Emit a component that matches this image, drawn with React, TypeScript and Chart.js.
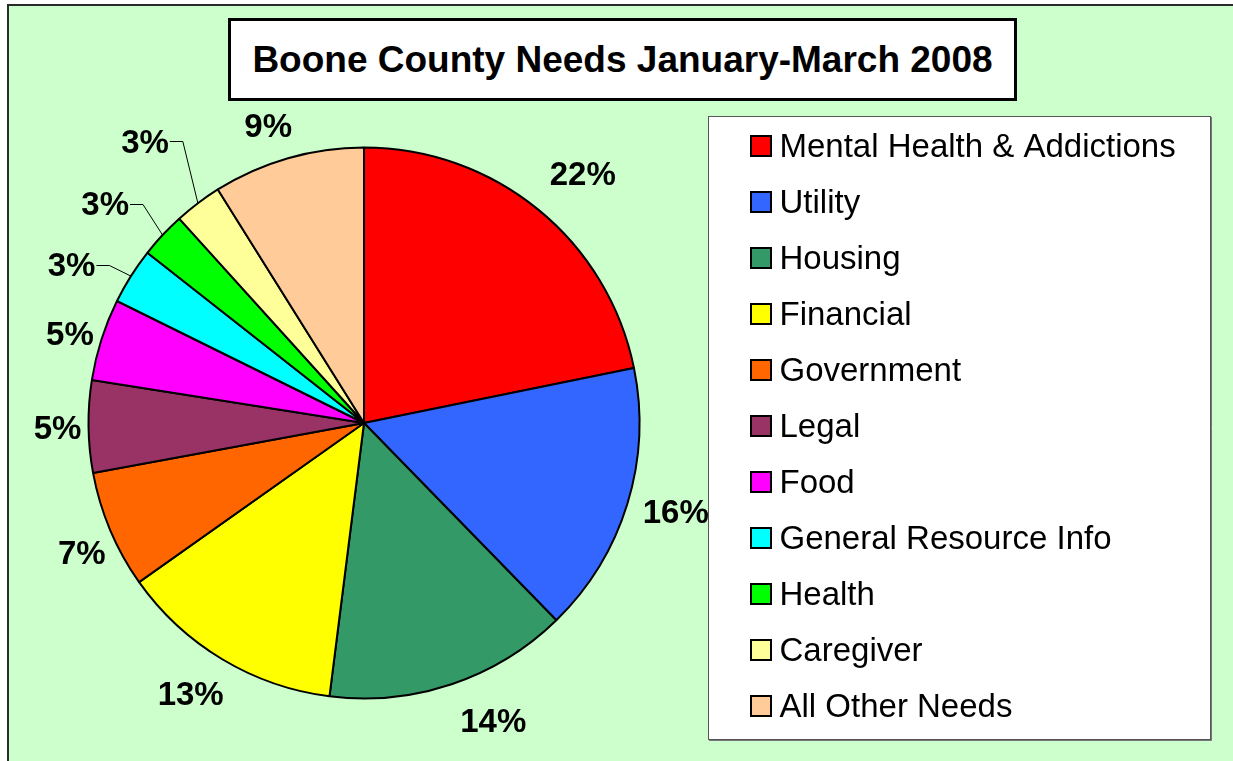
import React, { useEffect, useRef } from 'react';
import { Chart, registerables } from 'chart.js';

Chart.register(...registerables);

// ---- data ----
const categories = [
  'Mental Health & Addictions',
  'Utility',
  'Housing',
  'Financial',
  'Government',
  'Legal',
  'Food',
  'General Resource Info',
  'Health',
  'Caregiver',
  'All Other Needs',
];
const shares = [21.8, 15.9, 14.3, 13.2, 6.9, 5.4, 4.8, 3.3, 2.7, 2.8, 8.9];
const sliceColors = [
  '#FF0000', '#3366FF', '#339966', '#FFFF00', '#FF6600', '#993366',
  '#FF00FF', '#00FFFF', '#00FF00', '#FFFF99', '#FFCC99',
];
const titleText = 'Boone County Needs January-March 2008';

// ---- label placement (px beyond rim, degrees of turn), not data ----
const LABEL_PUSH = [55, 49, 50, 47, 35.5, 31, 31.5, 56.5, 63, 80.4, 36];
const LABEL_TURN = [2.2, -0.95, -4.85, 1.55, -2.0, -0.3, -0.95, -3.95, -2.9, -0.9, -1.9];
const LEADER_SLICES = [7, 8, 9];

// ---- layout / style ----
const W = 1233;
const H = 761;
const FONT = "'Liberation Sans', Arial, Helvetica, sans-serif";
const PIE_CX = 364;
const PIE_R = 275.5;
const LEGEND_FONT = 33;
const LEGEND_PAD = 23;
const SWATCH_SLOT = 12;
const LEGEND_BOX = { x: 708, y: 116, w: 503, h: 624 };

function makeSwatch(color: string) {
  const c = document.createElement('canvas');
  c.width = 32;
  c.height = 33;
  const g = c.getContext('2d')!;
  g.fillStyle = color;
  g.fillRect(9, 4, 22, 22);
  g.strokeStyle = '#000';
  g.lineWidth = 2;
  g.strokeRect(10, 5, 20, 20);
  return c;
}

export default function App() {
  const ref = useRef<HTMLCanvasElement>(null);

  useEffect(() => {
    const canvas = ref.current!;
    const mctx = canvas.getContext('2d')!;
    mctx.font = `normal ${LEGEND_FONT}px ${FONT}`;
    const tw = Math.max(...categories.map((c) => mctx.measureText(c).width));
    const legendWidth = LEGEND_PAD + SWATCH_SLOT + LEGEND_FONT / 2 + tw + 10;
    const padRight = W - PIE_CX * 2 - legendWidth;

    const total = shares.reduce((a, b) => a + b, 0);
    const pctLabels = shares.map((v) => Math.round((v / total) * 100) + '%');
    const swatches = sliceColors.map(makeSwatch);

    const decor = {
      id: 'decor',
      beforeDraw(chart: any) {
        const ctx = chart.ctx;
        ctx.save();
        ctx.fillStyle = '#FFFFFF';
        ctx.fillRect(LEGEND_BOX.x, LEGEND_BOX.y, LEGEND_BOX.w, LEGEND_BOX.h);
        ctx.strokeStyle = '#555';
        ctx.lineWidth = 1;
        ctx.strokeRect(LEGEND_BOX.x + 0.5, LEGEND_BOX.y + 0.5, LEGEND_BOX.w - 1, LEGEND_BOX.h - 1);
        ctx.strokeStyle = '#777';
        ctx.beginPath();
        ctx.moveTo(LEGEND_BOX.x + LEGEND_BOX.w + 0.5, LEGEND_BOX.y + 1);
        ctx.lineTo(LEGEND_BOX.x + LEGEND_BOX.w + 0.5, LEGEND_BOX.y + LEGEND_BOX.h + 0.5);
        ctx.lineTo(LEGEND_BOX.x + 1, LEGEND_BOX.y + LEGEND_BOX.h + 0.5);
        ctx.stroke();
        ctx.restore();
      },
    };

    const pieLabels = {
      id: 'pieLabels',
      afterDatasetsDraw(chart: any) {
        const ctx = chart.ctx;
        const meta = chart.getDatasetMeta(0);
        ctx.save();
        ctx.beginPath();
        ctx.rect(0, 0, LEGEND_BOX.x, H);
        ctx.clip();
        ctx.font = `bold 33px ${FONT}`;
        ctx.fillStyle = '#000';
        ctx.textAlign = 'center';
        ctx.textBaseline = 'middle';
        meta.data.forEach((arc: any, i: number) => {
          const { x, y, startAngle, endAngle, outerRadius } = arc.getProps(
            ['x', 'y', 'startAngle', 'endAngle', 'outerRadius'],
            true
          );
          const mid = (startAngle + endAngle) / 2;
          const a = mid + (LABEL_TURN[i] * Math.PI) / 180;
          const d = outerRadius + LABEL_PUSH[i];
          const lx = x + d * Math.cos(a);
          const ly = y + d * Math.sin(a);
          const text = pctLabels[i];
          ctx.fillText(text, lx, ly + 1);
          if (LEADER_SLICES.includes(i)) {
            const w = ctx.measureText(text).width;
            const right = lx + w / 2;
            const yy = Math.round(ly) - 0.5;
            const ex = x + outerRadius * Math.cos(mid);
            const ey = y + outerRadius * Math.sin(mid);
            ctx.beginPath();
            ctx.moveTo(right + 1, yy);
            ctx.lineTo(right + 14, yy);
            ctx.lineTo(ex, ey);
            ctx.lineWidth = 1;
            ctx.strokeStyle = '#000';
            ctx.stroke();
          }
        });
        ctx.restore();
      },
    };

    const chart = new Chart(canvas, {
      type: 'pie',
      data: {
        labels: categories,
        datasets: [
          {
            data: shares,
            backgroundColor: sliceColors,
            borderColor: '#000000',
            borderWidth: 2,
            hoverOffset: 0,
          },
        ],
      },
      options: {
        responsive: false,
        animation: false,
        devicePixelRatio: 1,
        events: [],
        radius: PIE_R,
        layout: { padding: { left: 0, top: 99, right: padRight, bottom: 14 } },
        plugins: {
          title: { display: false },
          tooltip: { enabled: false },
          legend: {
            position: 'right',
            align: 'end',
            labels: {
              usePointStyle: true,
              pointStyleWidth: SWATCH_SLOT,
              boxHeight: LEGEND_FONT,
              padding: LEGEND_PAD,
              color: '#000',
              font: { family: FONT, size: LEGEND_FONT },
              generateLabels: () =>
                categories.map((t, i) => ({
                  text: t,
                  fillStyle: sliceColors[i],
                  strokeStyle: '#000',
                  lineWidth: 2,
                  pointStyle: swatches[i],
                  hidden: false,
                  index: i,
                  datasetIndex: 0,
                  fontColor: '#000',
                })),
            },
          },
        },
      } as any,
      plugins: [decor, pieLabels],
    });

    return () => chart.destroy();
  }, []);

  return (
    <div
      style={{
        position: 'fixed',
        left: 0,
        top: 0,
        width: W,
        height: H,
        background: '#FFFFFF',
        overflow: 'hidden',
      }}
    >
      <div
        style={{
          position: 'absolute',
          left: 7,
          top: 4,
          right: 0,
          bottom: 0,
          background: '#CCFFCC',
          borderLeft: '2px solid #2a2a2a',
          borderTop: '2px solid #2a2a2a',
        }}
      />
      <canvas
        ref={ref}
        width={W}
        height={H}
        style={{ position: 'absolute', left: 0, top: 0, width: W, height: H }}
      />
      <div
        style={{
          position: 'absolute',
          left: 228,
          top: 18,
          width: 789,
          height: 83,
          boxSizing: 'border-box',
          border: '3px solid #000',
          background: '#FFFFFF',
          display: 'flex',
          alignItems: 'center',
          justifyContent: 'center',
          fontFamily: FONT,
          fontWeight: 'bold',
          fontSize: 37,
          color: '#000',
          whiteSpace: 'nowrap',
        }}
      >
        {titleText}
      </div>
    </div>
  );
}
